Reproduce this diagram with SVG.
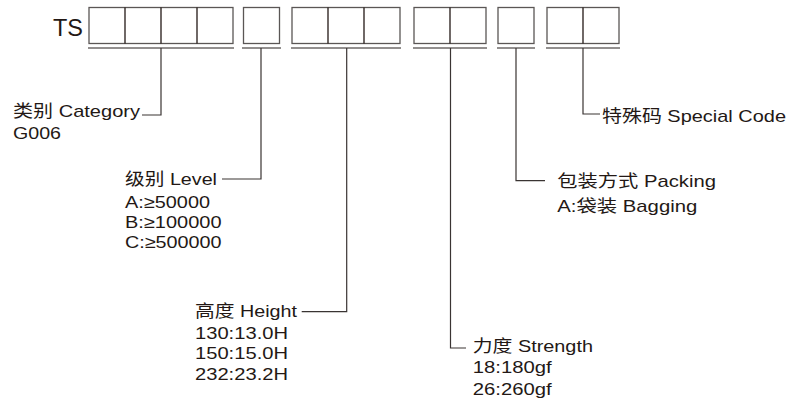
<svg xmlns="http://www.w3.org/2000/svg" width="801" height="401" viewBox="0 0 801 401">
<style>
.bg{fill:#ffffff}
.box{fill:#ffffff;stroke:#5a5655;stroke-width:1.3}
.div{stroke:#231815;stroke-width:1.3}
.ul{stroke:#6e6a69;stroke-width:1.6}
.con{fill:none;stroke:#3a3433;stroke-width:1.2}
text{font-family:"Liberation Sans","Noto Sans CJK SC",sans-serif;font-size:17px;fill:#231815}
.ts{font-size:23px}
</style>
<rect class="bg" width="801" height="401"/>
<g id="prefix"><text class="ts" x="53" y="36" textLength="30" lengthAdjust="spacingAndGlyphs">TS</text></g>
<g id="category">
<rect class="box" x="89" y="7.5" width="144" height="36"/>
<line class="div" x1="125" y1="7.5" x2="125" y2="43.5"/>
<line class="div" x1="161" y1="7.5" x2="161" y2="43.5"/>
<line class="div" x1="197" y1="7.5" x2="197" y2="43.5"/>
<line class="ul" x1="88" y1="48" x2="234" y2="48"/>
<text x="13" y="117" textLength="127" lengthAdjust="spacingAndGlyphs">类别 Category</text>
<text x="13" y="138.5" textLength="48" lengthAdjust="spacingAndGlyphs">G006</text>
</g>
<g id="level">
<rect class="box" x="243.5" y="7.5" width="36" height="36"/>
<line class="ul" x1="242" y1="48" x2="281" y2="48"/>
<text x="125" y="185" textLength="92" lengthAdjust="spacingAndGlyphs">级别 Level</text>
<text x="125" y="208" textLength="85" lengthAdjust="spacingAndGlyphs">A:≥50000</text>
<text x="125" y="228" textLength="96.5" lengthAdjust="spacingAndGlyphs">B:≥100000</text>
<text x="125" y="248" textLength="96.5" lengthAdjust="spacingAndGlyphs">C:≥500000</text>
</g>
<g id="height">
<rect class="box" x="292" y="7.5" width="108" height="36"/>
<line class="div" x1="328" y1="7.5" x2="328" y2="43.5"/>
<line class="div" x1="364" y1="7.5" x2="364" y2="43.5"/>
<line class="ul" x1="291" y1="48" x2="401" y2="48"/>
<text x="195" y="316.7" textLength="102" lengthAdjust="spacingAndGlyphs">高度 Height</text>
<text x="195" y="338.5" textLength="93" lengthAdjust="spacingAndGlyphs">130:13.0H</text>
<text x="195" y="359" textLength="93" lengthAdjust="spacingAndGlyphs">150:15.0H</text>
<text x="195" y="380" textLength="93" lengthAdjust="spacingAndGlyphs">232:23.2H</text>
</g>
<g id="strength">
<rect class="box" x="414" y="7.5" width="72" height="36"/>
<line class="div" x1="450" y1="7.5" x2="450" y2="43.5"/>
<line class="ul" x1="413" y1="48" x2="487" y2="48"/>
<text x="472.7" y="351.7" textLength="120.3" lengthAdjust="spacingAndGlyphs">力度 Strength</text>
<text x="472.7" y="373.3" textLength="79" lengthAdjust="spacingAndGlyphs">18:180gf</text>
<text x="472.7" y="394.5" textLength="79" lengthAdjust="spacingAndGlyphs">26:260gf</text>
</g>
<g id="packing">
<rect class="box" x="498" y="7.5" width="36" height="36"/>
<line class="ul" x1="497" y1="48" x2="535" y2="48"/>
<text x="557.3" y="186.7" textLength="158.7" lengthAdjust="spacingAndGlyphs">包装方式 Packing</text>
<text x="557.3" y="211.7" textLength="140" lengthAdjust="spacingAndGlyphs">A:袋装 Bagging</text>
</g>
<g id="special">
<rect class="box" x="547" y="7.5" width="72" height="36"/>
<line class="div" x1="583" y1="7.5" x2="583" y2="43.5"/>
<line class="ul" x1="546" y1="48" x2="620" y2="48"/>
<text x="602" y="121.7" textLength="184" lengthAdjust="spacingAndGlyphs">特殊码 Special Code</text>
</g>
<g id="connectors">
<polyline class="con" points="161,48 161,115 142,115"/>
<polyline class="con" points="261,48 261,179 222,179"/>
<polyline class="con" points="346.7,48 346.7,311.7 301.7,311.7"/>
<polyline class="con" points="450.5,48 450.5,348 466,348"/>
<polyline class="con" points="516,48 516,180.7 545,180.7"/>
<polyline class="con" points="583,48 583,114 600,114"/>
</g>
</svg>
